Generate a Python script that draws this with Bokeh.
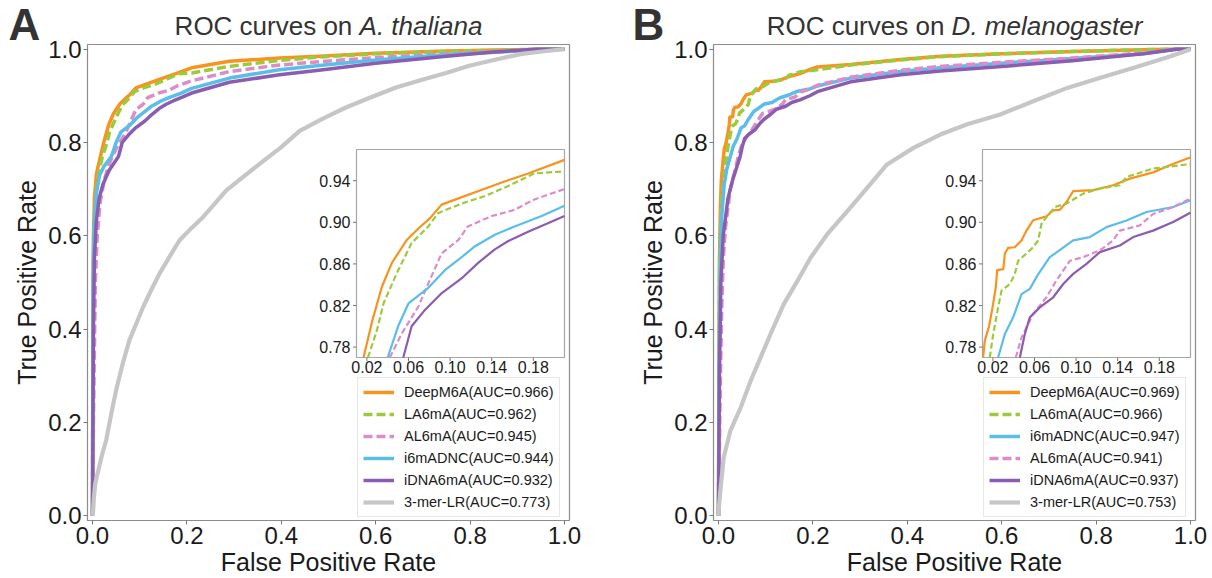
import numpy as np
from bokeh.plotting import figure
from bokeh.layouts import row, column
from bokeh.models import Range1d, FixedTicker, Legend, LegendItem, PrintfTickFormatter
from bokeh.core.properties import value
from bokeh.embed import file_html
from bokeh.resources import INLINE

# ---------------- data ----------------
MAIN_TICKS = [0.0, 0.2, 0.4, 0.6, 0.8, 1.0]
INSET_X_TICKS = [0.02, 0.06, 0.10, 0.14, 0.18]
INSET_X_LABELS = ["0.02", "0.06", "0.10", "0.14", "0.18"]
INSET_Y_TICKS = [0.78, 0.82, 0.86, 0.90, 0.94]
INSET_Y_LABELS = ["0.78", "0.82", "0.86", "0.90", "0.94"]
INSET_XLIM = [0.01, 0.21]
INSET_YLIM = [0.77, 0.97]

# Panel A: A. thaliana
A_names = ["DeepM6A", "LA6mA", "AL6mA", "i6mADNC", "iDNA6mA", "3-mer-LR"]
A_aucs = ["0.966", "0.962", "0.945", "0.944", "0.932", "0.773"]

A_deepm6a_fpr = [0, 0.0005, 0.001, 0.002, 0.004, 0.008, 0.012, 0.0168, 0.0248, 0.0344, 0.044, 0.0583, 0.0695, 0.0807, 0.0918, 0.108, 0.130, 0.149, 0.175, 0.21, 0.29, 0.396, 0.48, 0.6, 0.75, 0.9, 0.95, 1.0]
A_deepm6a_tpr = [0, 0.25, 0.45, 0.6, 0.68, 0.73, 0.75, 0.77, 0.804, 0.838, 0.861, 0.883, 0.894, 0.904, 0.917, 0.923, 0.931, 0.938, 0.947, 0.96, 0.974, 0.981, 0.985, 0.991, 0.996, 0.999, 1.0, 1.0]

A_la6ma_fpr = [0, 0.0005, 0.001, 0.002, 0.004, 0.008, 0.014, 0.021, 0.0296, 0.036, 0.0487, 0.063, 0.079, 0.0887, 0.111, 0.133, 0.156, 0.181, 0.21, 0.29, 0.396, 0.48, 0.6, 0.75, 0.9, 0.95, 1.0]
A_la6ma_tpr = [0, 0.2, 0.4, 0.55, 0.64, 0.7, 0.74, 0.77, 0.796, 0.822, 0.851, 0.88, 0.896, 0.909, 0.918, 0.925, 0.935, 0.947, 0.949, 0.963, 0.976, 0.983, 0.99, 0.995, 0.999, 1.0, 1.0]

A_al6ma_fpr = [0, 0.002, 0.004, 0.006, 0.01, 0.016, 0.025, 0.034, 0.042, 0.0535, 0.0695, 0.0807, 0.0918, 0.108, 0.117, 0.140, 0.162, 0.181, 0.21, 0.29, 0.396, 0.48, 0.6, 0.75, 0.9, 0.95, 1.0]
A_al6ma_tpr = [0, 0.2, 0.35, 0.5, 0.6, 0.67, 0.72, 0.75, 0.77, 0.793, 0.819, 0.845, 0.870, 0.883, 0.896, 0.906, 0.912, 0.922, 0.932, 0.952, 0.966, 0.973, 0.982, 0.99, 0.997, 1.0, 1.0]

A_i6madnc_fpr = [0, 0.0005, 0.001, 0.002, 0.004, 0.008, 0.015, 0.025, 0.04, 0.05, 0.06, 0.079, 0.095, 0.108, 0.124, 0.143, 0.162, 0.188, 0.21, 0.29, 0.396, 0.48, 0.6, 0.75, 0.9, 0.95, 1.0]
A_i6madnc_tpr = [0, 0.3, 0.45, 0.56, 0.63, 0.69, 0.73, 0.75, 0.77, 0.80, 0.822, 0.837, 0.854, 0.864, 0.877, 0.888, 0.896, 0.906, 0.916, 0.938, 0.956, 0.965, 0.977, 0.988, 0.996, 1.0, 1.0]

A_idna6ma_fpr = [0, 0.001, 0.002, 0.004, 0.008, 0.014, 0.022, 0.035, 0.055, 0.063, 0.076, 0.092, 0.111, 0.127, 0.143, 0.156, 0.175, 0.194, 0.21, 0.29, 0.396, 0.48, 0.6, 0.75, 0.85, 0.94, 1.0]
A_idna6ma_tpr = [0, 0.2, 0.4, 0.55, 0.63, 0.68, 0.71, 0.74, 0.77, 0.80, 0.816, 0.832, 0.846, 0.861, 0.874, 0.882, 0.891, 0.899, 0.906, 0.929, 0.945, 0.955, 0.970, 0.985, 0.994, 1.0, 1.0]

A_lr_fpr = [0, 0.001, 0.003, 0.006, 0.011, 0.02, 0.029, 0.04, 0.05, 0.065, 0.078, 0.092, 0.107, 0.125, 0.142, 0.163, 0.184, 0.21, 0.234, 0.26, 0.283, 0.32, 0.354, 0.4, 0.439, 0.49, 0.537, 0.59, 0.643, 0.7, 0.749, 0.8, 0.855, 0.91, 0.961, 1.0]
A_lr_tpr = [0, 0.006, 0.04, 0.07, 0.092, 0.13, 0.162, 0.22, 0.269, 0.33, 0.376, 0.41, 0.447, 0.485, 0.519, 0.555, 0.59, 0.617, 0.64, 0.67, 0.697, 0.727, 0.754, 0.79, 0.825, 0.852, 0.875, 0.897, 0.918, 0.935, 0.949, 0.965, 0.978, 0.99, 0.996, 1.0]

# Panel B: D. melanogaster
B_names = ["DeepM6A", "LA6mA", "i6mADNC", "AL6mA", "iDNA6mA", "3-mer-LR"]
B_aucs = ["0.969", "0.966", "0.947", "0.941", "0.937", "0.753"]

B_deepm6a_fpr = [0, 0.001, 0.002, 0.004, 0.006, 0.0106, 0.0122, 0.0164, 0.0196, 0.0228, 0.0241, 0.030, 0.0315, 0.0347, 0.041, 0.0475, 0.0523, 0.0587, 0.0715, 0.078, 0.0844, 0.0908, 0.0972, 0.1164, 0.1356, 0.1517, 0.174, 0.193, 0.209, 0.28, 0.386, 0.47, 0.6, 0.75, 0.9, 0.96, 1.0]
B_deepm6a_tpr = [0, 0.35, 0.55, 0.66, 0.72, 0.77, 0.786, 0.8005, 0.818, 0.8375, 0.854, 0.855, 0.870, 0.8755, 0.876, 0.8825, 0.892, 0.902, 0.9057, 0.9115, 0.912, 0.9195, 0.930, 0.931, 0.9356, 0.942, 0.948, 0.956, 0.962, 0.967, 0.978, 0.985, 0.99, 0.995, 0.999, 1.0, 1.0]

B_la6ma_fpr = [0, 0.001, 0.002, 0.004, 0.008, 0.012, 0.017, 0.0203, 0.025, 0.0283, 0.0363, 0.041, 0.0443, 0.0523, 0.0587, 0.0635, 0.0667, 0.0715, 0.0795, 0.0908, 0.1068, 0.1228, 0.142, 0.1485, 0.174, 0.209, 0.28, 0.386, 0.47, 0.6, 0.75, 0.9, 0.97, 1.0]
B_la6ma_tpr = [0, 0.3, 0.5, 0.62, 0.69, 0.73, 0.77, 0.7925, 0.818, 0.8343, 0.8407, 0.850, 0.863, 0.870, 0.876, 0.8825, 0.8986, 0.905, 0.9147, 0.918, 0.9276, 0.9324, 0.9356, 0.9436, 0.9517, 0.9559, 0.966, 0.977, 0.984, 0.99, 0.995, 0.999, 1.0, 1.0]

B_i6madnc_fpr = [0, 0.001, 0.003, 0.006, 0.012, 0.018, 0.025, 0.0315, 0.0395, 0.0475, 0.0555, 0.0635, 0.0747, 0.0812, 0.0972, 0.1132, 0.1292, 0.1485, 0.1677, 0.1933, 0.2094, 0.28, 0.386, 0.47, 0.6, 0.75, 0.9, 0.97, 1.0]
B_i6madnc_tpr = [0, 0.3, 0.5, 0.63, 0.71, 0.745, 0.77, 0.7925, 0.8086, 0.831, 0.836, 0.850, 0.8665, 0.871, 0.8826, 0.8858, 0.8954, 0.9018, 0.9099, 0.9147, 0.921, 0.938, 0.952, 0.96, 0.97, 0.98, 0.99, 1.0, 1.0]

B_al6ma_fpr = [0, 0.002, 0.004, 0.007, 0.01, 0.015, 0.025, 0.035, 0.042, 0.0475, 0.0587, 0.0715, 0.081, 0.094, 0.1068, 0.1228, 0.1356, 0.142, 0.1613, 0.174, 0.1933, 0.2094, 0.28, 0.386, 0.47, 0.6, 0.75, 0.9, 0.97, 1.0]
B_al6ma_tpr = [0, 0.15, 0.3, 0.45, 0.55, 0.62, 0.7, 0.74, 0.77, 0.7893, 0.8118, 0.8279, 0.844, 0.863, 0.8665, 0.873, 0.8825, 0.892, 0.897, 0.908, 0.9147, 0.9227, 0.94, 0.955, 0.963, 0.972, 0.981, 0.992, 1.0, 1.0]

B_idna6ma_fpr = [0, 0.001, 0.002, 0.005, 0.01, 0.02, 0.03, 0.038, 0.0459, 0.0507, 0.0555, 0.0651, 0.078, 0.0876, 0.0972, 0.11, 0.1228, 0.142, 0.1549, 0.174, 0.1933, 0.2094, 0.28, 0.386, 0.47, 0.6, 0.75, 0.9, 0.97, 1.0]
B_idna6ma_tpr = [0, 0.15, 0.3, 0.5, 0.6, 0.68, 0.72, 0.745, 0.77, 0.7925, 0.8086, 0.8182, 0.8279, 0.8407, 0.8504, 0.860, 0.8713, 0.8777, 0.8858, 0.892, 0.9002, 0.9089, 0.93, 0.945, 0.953, 0.963, 0.975, 0.99, 1.0, 1.0]

B_lr_fpr = [0, 0.001, 0.004, 0.011, 0.025, 0.047, 0.068, 0.089, 0.11, 0.138, 0.167, 0.195, 0.23, 0.273, 0.315, 0.357, 0.414, 0.47, 0.527, 0.597, 0.668, 0.739, 0.809, 0.88, 0.95, 1.0]
B_lr_tpr = [0, 0.02, 0.054, 0.125, 0.182, 0.232, 0.289, 0.339, 0.389, 0.453, 0.503, 0.553, 0.603, 0.653, 0.703, 0.753, 0.789, 0.817, 0.839, 0.86, 0.889, 0.917, 0.939, 0.96, 0.982, 1.0]

A_fprs = [A_deepm6a_fpr, A_la6ma_fpr, A_al6ma_fpr, A_i6madnc_fpr, A_idna6ma_fpr, A_lr_fpr]
A_tprs = [A_deepm6a_tpr, A_la6ma_tpr, A_al6ma_tpr, A_i6madnc_tpr, A_idna6ma_tpr, A_lr_tpr]
B_fprs = [B_deepm6a_fpr, B_la6ma_fpr, B_i6madnc_fpr, B_al6ma_fpr, B_idna6ma_fpr, B_lr_fpr]
B_tprs = [B_deepm6a_tpr, B_la6ma_tpr, B_i6madnc_tpr, B_al6ma_tpr, B_idna6ma_tpr, B_lr_tpr]

# ---------------- styles / layout constants ----------------
COL = {"DeepM6A": "#F7931E", "LA6mA": "#9BCB3C", "AL6mA": "#DC8CC8",
       "i6mADNC": "#5BBDEA", "iDNA6mA": "#8B5DB0", "3-mer-LR": "#C6C6C6"}
DASHED = {"LA6mA", "AL6mA"}
FONT = "Liberation Sans"
TXT = "#1a1a1a"
HEAD_H = 40
FW, FH = 482, 476
IN_L, IN_T, IN_W, IN_H = 269, 105, 208, 208

ARIAL_W = {" ": 278, ".": 278, "A": 667, "C": 722, "D": 722, "O": 778, "R": 722,
           "a": 556, "c": 500, "e": 556, "g": 556, "h": 556, "i": 222, "l": 222,
           "m": 833, "n": 556, "o": 556, "r": 333, "s": 500, "t": 278, "u": 556, "v": 500}


def text_w(s, size):
    return sum(ARIAL_W.get(ch, 556) for ch in s) / 1000.0 * size


def clip_to_box(xs, ys, x0, x1, y0, y1):
    ox, oy = [], []
    for i in range(len(xs) - 1):
        ax, ay, bx, by = xs[i], ys[i], xs[i + 1], ys[i + 1]
        dx, dy = bx - ax, by - ay
        t0, t1, ok = 0.0, 1.0, True
        for pp, qq in ((-dx, ax - x0), (dx, x1 - ax), (-dy, ay - y0), (dy, y1 - ay)):
            if pp == 0:
                if qq < 0:
                    ok = False
                    break
            else:
                r = qq / pp
                if pp < 0:
                    if r > t1:
                        ok = False
                        break
                    t0 = max(t0, r)
                else:
                    if r < t0:
                        ok = False
                        break
                    t1 = min(t1, r)
        if not ok:
            continue
        p0 = (ax + t0 * dx, ay + t0 * dy)
        p1 = (ax + t1 * dx, ay + t1 * dy)
        if not ox or abs(ox[-1] - p0[0]) > 1e-12 or abs(oy[-1] - p0[1]) > 1e-12:
            if ox:
                ox.append(np.nan)
                oy.append(np.nan)
            ox.append(p0[0])
            oy.append(p0[1])
        ox.append(p1[0])
        oy.append(p1[1])
    return ox, oy


def build_header(width, letter, letter_x, t_plain, t_italic, center_x):
    h = figure(frame_width=width, frame_height=HEAD_H, x_range=Range1d(0, width),
               y_range=Range1d(0, HEAD_H), x_axis_location=None, y_axis_location=None,
               min_border=0, frame_align=False,
               output_backend="svg", toolbar_location=None, tools="")
    h.outline_line_color = None
    h.grid.visible = False
    tsize = 26
    w_plain = text_w(t_plain + " ", tsize)
    w_all = w_plain + text_w(t_italic, tsize)
    start = center_x - w_all / 2
    # vertical centres of the text lines (title baseline ~35 px, letter baseline ~40 px from top)
    t_mid = HEAD_H - (35 - 0.35 * tsize)
    l_mid = HEAD_H - (39.5 - 0.35 * 44)
    h.text(x=[start], y=[t_mid], text=[t_plain], text_font=value(FONT), text_font_size=f"{tsize}px",
           text_color="#333333", text_align="left", text_baseline="middle")
    h.text(x=[start + w_plain], y=[t_mid], text=[t_italic], text_font=value(FONT),
           text_font_size=f"{tsize}px", text_font_style="italic", text_color="#333333",
           text_align="left", text_baseline="middle")
    h.text(x=[letter_x], y=[l_mid], text=[letter], text_font=value(FONT), text_font_size="44px",
           text_font_style="bold", text_color="#333333", text_align="left", text_baseline="middle")
    return h


def build_panel(names, aucs, fprs, tprs, bl, br):
    p = figure(frame_width=FW, frame_height=FH, min_border_left=bl, min_border_right=br,
               min_border_top=44 - HEAD_H, min_border_bottom=0,
               x_range=Range1d(-0.0106, 1.0106), y_range=Range1d(-0.01, 1.01),
               output_backend="svg", toolbar_location=None, tools="")
    p.grid.visible = False
    p.outline_line_color = "#8c8c8c"
    p.outline_line_width = 1.2
    for ax in (p.xaxis, p.yaxis):
        ax.ticker = FixedTicker(ticks=MAIN_TICKS)
        ax.formatter = PrintfTickFormatter(format="%.1f")
        ax.axis_line_color = None
        ax.major_tick_line_color = "#777777"
        ax.major_tick_out = 4
        ax.major_tick_in = 0
        ax.minor_tick_line_color = None
        ax.major_label_text_font = FONT
        ax.major_label_text_font_size = "24px"
        ax.major_label_text_color = TXT
        ax.major_label_standoff = 2
        ax.axis_label_text_font = FONT
        ax.axis_label_text_font_size = "25px"
        ax.axis_label_text_font_style = "normal"
        ax.axis_label_text_color = TXT
    p.xaxis.axis_label = "False Positive Rate"
    p.xaxis.axis_label_standoff = 1
    p.yaxis.axis_label = "True Positive Rate"
    p.yaxis.axis_label_standoff = 4

    # inset ranges mapped onto a sub-box of the frame
    ipx = IN_W / (INSET_XLIM[1] - INSET_XLIM[0])
    ipy = IN_H / (INSET_YLIM[1] - INSET_YLIM[0])
    p.extra_x_ranges = {"ix": Range1d(INSET_XLIM[0] - IN_L / ipx, INSET_XLIM[1] + (FW - IN_L - IN_W) / ipx)}
    p.extra_y_ranges = {"iy": Range1d(INSET_YLIM[0] - (FH - IN_T - IN_H) / ipy, INSET_YLIM[1] + IN_T / ipy)}

    items = []
    for nm, auc, fx, ty in zip(names, aucs, fprs, tprs):
        r = p.line(fx, ty, line_color=COL[nm], line_width=4.2 if nm == "3-mer-LR" else 3.5,
                   line_dash="9 4" if nm in DASHED else "solid", line_join="round")
        items.append(LegendItem(label=f"{nm}(AUC={auc})", renderers=[r]))

    # inset
    p.quad(left=[INSET_XLIM[0]], right=[INSET_XLIM[1]], bottom=[INSET_YLIM[0]], top=[INSET_YLIM[1]],
           x_range_name="ix", y_range_name="iy", fill_color="white", line_color="#a6a6a6", line_width=1.2)
    for nm, fx, ty in zip(names, fprs, tprs):
        cx, cy = clip_to_box(fx, ty, INSET_XLIM[0], INSET_XLIM[1], INSET_YLIM[0], INSET_YLIM[1])
        if len(cx) > 1:
            p.line(cx, cy, x_range_name="ix", y_range_name="iy", line_color=COL[nm], line_width=2.2,
                   line_dash="6 3" if nm in DASHED else "solid", line_join="round")
    tl = 3.5
    nx, ny = len(INSET_X_TICKS), len(INSET_Y_TICKS)
    p.segment(x0=INSET_X_TICKS, x1=INSET_X_TICKS, y0=[INSET_YLIM[0]] * nx,
              y1=[INSET_YLIM[0] - tl / ipy] * nx, x_range_name="ix", y_range_name="iy",
              line_color="#777777", line_width=1)
    p.segment(x0=[INSET_XLIM[0]] * ny, x1=[INSET_XLIM[0] - tl / ipx] * ny, y0=INSET_Y_TICKS,
              y1=INSET_Y_TICKS, x_range_name="ix", y_range_name="iy",
              line_color="#777777", line_width=1)
    p.text(x=INSET_X_TICKS, y=[INSET_YLIM[0] - 3.5 / ipy] * nx, text=INSET_X_LABELS, x_range_name="ix",
           y_range_name="iy", text_align="center", text_baseline="top",
           text_font=value(FONT), text_font_size="16px", text_color=TXT)
    p.text(x=[INSET_XLIM[0] - 6 / ipx] * ny, y=INSET_Y_TICKS, text=INSET_Y_LABELS, x_range_name="ix",
           y_range_name="iy", text_align="right", text_baseline="middle",
           text_font=value(FONT), text_font_size="16px", text_color=TXT)

    legend = Legend(items=items, location=(270, 3), margin=0, padding=5, spacing=4,
                    glyph_width=31, glyph_height=18, label_height=18, label_standoff=10,
                    label_text_font=FONT, label_text_font_size="14.5px", label_text_color=TXT,
                    border_line_color="#cfcfcf", border_line_width=1,
                    background_fill_color="white", background_fill_alpha=0.85)
    p.add_layout(legend)
    return p


hA = build_header(608, "A", 8, "ROC curves on", "A. thaliana", 87 + FW / 2)
pA = build_panel(A_names, A_aucs, A_fprs, A_tprs, 87, 39)
hB = build_header(604, "B", 24, "ROC curves on", "D. melanogaster", 105 + FW / 2)
pB = build_panel(B_names, B_aucs, B_fprs, B_tprs, 105, 17)

layout = row(column(hA, pA), column(hB, pB))
open("out.html", "w").write(file_html(layout, INLINE))
